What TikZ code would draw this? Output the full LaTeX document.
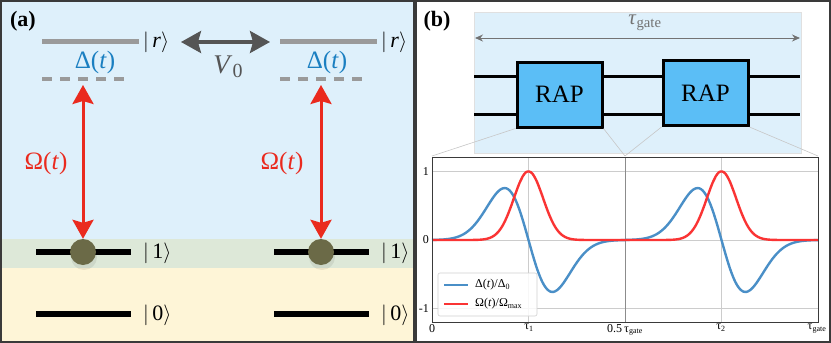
\documentclass[tikz,border=0pt]{standalone}
\usepackage{fontspec}
\setmainfont{Liberation Serif}
\usetikzlibrary{arrows.meta}
\definecolor{bgblue}{HTML}{DEF0FB}
\definecolor{bggreen}{HTML}{DDE8D8}
\definecolor{bgyellow}{HTML}{FEF5D7}
\definecolor{levelgray}{HTML}{9A9A9A}
\definecolor{vgray}{HTML}{555555}
\definecolor{detblue}{HTML}{1A7FC1}
\definecolor{rabired}{HTML}{EA2A1E}
\definecolor{dotolive}{HTML}{6B6A47}
\definecolor{rapfill}{HTML}{5BBEF6}
\definecolor{curveblue}{HTML}{4A8FC7}
\definecolor{curvered}{HTML}{FA3434}
\definecolor{framegray}{HTML}{3A3A3A}
\newcommand{\tsub}[1]{\textsubscript{#1}}
\begin{document}
\begin{tikzpicture}[x=1pt,y=-1pt,
  frame/.style={draw=framegray,line width=1.6pt},
  rlevel/.style={draw=levelgray,line width=5pt},
  dlevel/.style={draw=levelgray,line width=4pt,dash pattern=on 9.5pt off 8.6pt},
  glevel/.style={draw=black,line width=5.5pt},
  ket/.style={font=\fontsize{22}{24}\selectfont,anchor=west,inner sep=0pt},
  biglab/.style={font=\fontsize{25}{27}\selectfont,inner sep=0pt},
  rabi/.style={draw=rabired,line width=3pt,{Stealth[length=19pt,width=21pt,inset=3pt]}-{Stealth[length=19pt,width=21pt,inset=3pt]}},
  panellab/.style={font=\bfseries\fontsize{22}{24}\selectfont,inner sep=0pt},
  rapbox/.style={draw=black,line width=3pt,fill=rapfill,minimum width=85pt,minimum height=65pt,inner sep=0pt,font=\fontsize{25}{27}\selectfont},
  wire/.style={draw=black,line width=3pt},
  zoomline/.style={draw=black!22,line width=0.6pt},
  gridl/.style={draw=black!20,line width=0.6pt},
  tick/.style={font=\fontsize{12}{13}\selectfont,inner sep=1pt},
  curve/.style={line width=2.4pt,line join=round},
  declare function={
    gr(\t,\c)=exp(-(\t-\c)*(\t-\c)/(2*0.038*0.038));
    gb(\t,\c)=-1.25*(\t-\c)/0.062*exp(-(\t-\c)*(\t-\c)/(2*0.062*0.062));
    px(\t)=432+386*\t;
    py(\v)=240-68.5*\v;
  }]
\useasboundingbox (0,0) rectangle (831,343);
% ---------------- panel (a) ----------------
\fill[bgblue] (1,1) rectangle (414,239);
\fill[bggreen] (1,239) rectangle (414,268);
\fill[bgyellow] (1,268) rectangle (414,342);
\fill[white] (416,1) rectangle (830,342);
\node[panellab] (la) at (23,21) {(a)};

\foreach \dx/\dd/\do/\nm in {0/95/46/L, 238/327/282/R}{
  \draw[rlevel] (42+\dx,41) -- (139+\dx,41);
  \node[ket] (r\nm) at (143+\dx,42) {$|\,$\textit{r}$\rangle$};
  \draw[dlevel] (42+\dx,79) -- (124+\dx,79);
  \node[biglab,text=detblue] (d\nm) at (\dd,62) {Δ(\textit{t})};
  \draw[glevel] (36+\dx,252) -- (131+\dx,252);
  \node[ket] (one\nm) at (143+\dx,253) {$|\,$1$\rangle$};
  \draw[glevel] (36+\dx,314) -- (131+\dx,314);
  \node[ket] (zero\nm) at (143+\dx,315) {$|\,$0$\rangle$};
  \node[circle,fill=black,fill opacity=0.07,minimum size=26pt,inner sep=0pt] (sh\nm) at (84+\dx,257) {};
  \node[circle,fill=dotolive,minimum size=26pt,inner sep=0pt] (dot\nm) at (83+\dx,252) {};
  \coordinate (top\nm) at (83+\dx,85);
  \draw[rabi] (top\nm) -- (dot\nm.north);
  \node[biglab,text=rabired] (om\nm) at (\do,163) {Ω(\textit{t})};
}
\coordinate (vL) at (181,42);
\coordinate (vR) at (270,42);
\draw[draw=vgray,line width=3.2pt,{Stealth[length=20pt,width=22pt,inset=3pt]}-{Stealth[length=20pt,width=22pt,inset=3pt]}] (vL) -- (vR);
\node[font=\fontsize{27}{29}\selectfont,text=vgray,inner sep=0pt] (v0) at (228,67) {\textit{V}\raisebox{-0.15em}{\fontsize{20}{22}\selectfont 0}};

% ---------------- panel (b) ----------------
\node[panellab] (lb) at (437,21) {(b)};
\fill[bgblue,draw=black!12,line width=0.6pt] (474,12) rectangle (801,153);
\coordinate (gl) at (475,38);
\coordinate (gr) at (800,38);
\draw[draw=black!55,line width=1pt,{Stealth[length=8pt,width=7pt]}-{Stealth[length=8pt,width=7pt]}] (gl) -- (gr);
\node[font=\fontsize{21}{23}\selectfont,text=black!55,inner sep=0pt] (tg) at (645,23) {\textit{τ}\tsub{gate}};
\draw[wire] (474,76) -- (800,76);
\draw[wire] (474,114) -- (800,114);
\node[rapbox] (rap1) at (559.5,94.5) {RAP};
\node[rapbox] (rap2) at (705.5,93) {RAP};

% plot area
\coordinate (pTL) at (432,156);
\coordinate (pTM) at (625,156);
\coordinate (pTR) at (818,156);
\draw[zoomline] (rap1.south west) -- (pTL);
\draw[zoomline] (rap1.south east) -- (pTM);
\draw[zoomline] (rap2.south west) -- (pTM);
\draw[zoomline] (rap2.south east) -- (pTR);

% grid
\foreach \v in {1,0,-1}{ \draw[gridl] (432,{py(\v)}) -- (818,{py(\v)}); }
\foreach \t in {0.25,0.75}{ \draw[gridl] ({px(\t)},157) -- ({px(\t)},322); }
\draw[draw=black!45,line width=0.7pt] (625,157) -- (625,322);

% curves
\draw[curve,curveblue] plot[domain=0:0.5,samples=120,variable=\t] ({px(\t)},{py(gb(\t,0.25))});
\draw[curve,curveblue] plot[domain=0.5:1,samples=120,variable=\t] ({px(\t)},{py(gb(\t,0.75))});
\draw[curve,curvered] plot[domain=0:0.5,samples=120,variable=\t] ({px(\t)},{py(gr(\t,0.25))});
\draw[curve,curvered] plot[domain=0.5:1,samples=120,variable=\t] ({px(\t)},{py(gr(\t,0.75))});

\draw[draw=framegray,line width=0.7pt] (432,157) rectangle (818,322);

% ticks
\node[tick,anchor=east] (y1) at (430,172) {1};
\node[tick,anchor=east] (y0) at (430,240) {0};
\node[tick,anchor=east] (ym) at (430,309) {-1};
\node[tick,anchor=north] (x0) at (432,323) {0};
\node[tick,anchor=north] (x1) at (529,323) {τ\tsub{1}};
\node[tick,anchor=north] (x2) at (625,323) {0.5\,τ\tsub{gate}};
\node[tick,anchor=north] (x3) at (721,323) {τ\tsub{2}};
\node[tick,anchor=north] (x4) at (817,323) {τ\tsub{gate}};

% legend
\draw[draw=black!18,fill=white,fill opacity=0.85,rounded corners=2pt,line width=0.6pt] (438,273) rectangle (537,316);
\draw[curve,curveblue] (444,285) -- (468,285);
\draw[curve,curvered] (444,304) -- (468,304);
\node[tick,anchor=west] (lg1) at (474,285) {Δ(\textit{t})/Δ\tsub{0}};
\node[tick,anchor=west] (lg2) at (474,304) {Ω(\textit{t})/Ω\tsub{max}};

% frames
\draw[frame] (1,1) rectangle (414,342);
\draw[frame] (416,1) rectangle (830,342);
\end{tikzpicture}
\end{document}
